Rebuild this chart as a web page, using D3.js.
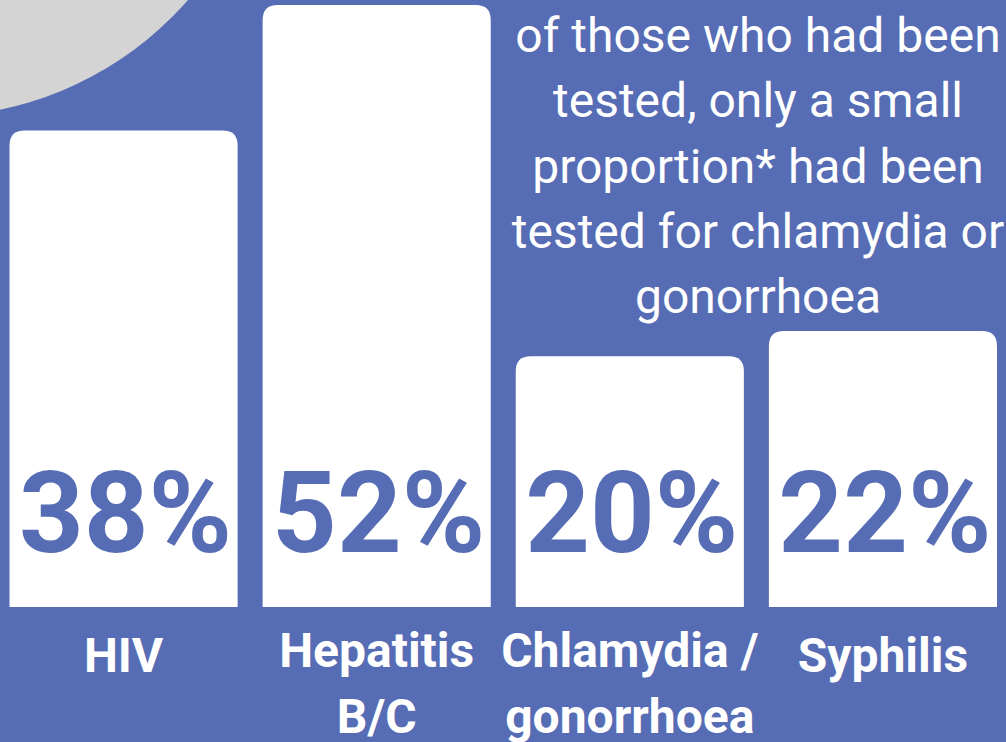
<!DOCTYPE html>
<html>
<head>
<meta charset="utf-8">
<script src="https://cdn.jsdelivr.net/npm/d3@7"></script>
<style>
  html, body { margin: 0; padding: 0; background: #566cb4; overflow: hidden; }
  svg { display: block; }
  text { font-family: Roboto, "Noto Sans", sans-serif; }
</style>
</head>
<body>
<svg id="chart" width="1006" height="742"></svg>
<script>
// ---- data ----
const categories = ["HIV", "Hepatitis B/C", "Chlamydia / gonorrhoea", "Syphilis"];
const labelLines = [["HIV"], ["Hepatitis", "B/C"], ["Chlamydia /", "gonorrhoea"], ["Syphilis"]];
const values = [38, 52, 20, 22];
const valueLabels = ["38%", "52%", "20%", "22%"];
const noteLines = [
  "of those who had been",
  "tested, only a small",
  "proportion* had been",
  "tested for chlamydia or",
  "gonorrhoea"
];

// ---- setup ----
const W = 1006, H = 742;
const BG = "#566cb4";
const svg = d3.select("#chart");

svg.append("rect").attr("width", W).attr("height", H).attr("fill", BG);

// decorative grey circle top-left
svg.append("circle")
  .attr("cx", -70).attr("cy", -226).attr("r", 343)
  .attr("fill", "#d4d4d4");

const x = d3.scaleBand()
  .domain(categories)
  .range([9.5, 997])
  .paddingInner(0.0988)
  .paddingOuter(0);

const y = d3.scaleLinear()
  .domain([0, 48])
  .range([607, 5])
  .clamp(true);

const r = 15;
function topRounded(x0, y0, w, h) {
  const rr = Math.min(r, w / 2, h);
  return `M${x0},${y0 + h}` +
    `V${y0 + rr}` +
    `Q${x0},${y0} ${x0 + rr},${y0}` +
    `H${x0 + w - rr}` +
    `Q${x0 + w},${y0} ${x0 + w},${y0 + rr}` +
    `V${y0 + h}Z`;
}

const data = categories.map((c, i) => ({ c, v: values[i], label: valueLabels[i], lines: labelLines[i] }));

svg.append("g").selectAll("path")
  .data(data)
  .join("path")
  .attr("d", d => topRounded(x(d.c), y(d.v), x.bandwidth(), y(0) - y(d.v)))
  .attr("fill", "#ffffff");

// value labels inside bars
svg.append("g").selectAll("text")
  .data(data)
  .join("text")
  .attr("x", d => x(d.c) + x.bandwidth() / 2 + 2)
  .attr("y", y(0) - 55)
  .attr("text-anchor", "middle")
  .attr("font-size", 113)
  .attr("font-weight", 700)
  .attr("fill", BG)
  .text(d => d.label);

// category labels
const lg = svg.append("g");
data.forEach(d => {
  const t = lg.append("text")
    .attr("text-anchor", "middle")
    .attr("font-size", 48)
    .attr("font-weight", 700)
    .attr("fill", "#ffffff");
  const cx = x(d.c) + x.bandwidth() / 2;
  const base = d.lines.length > 1 ? 667 : 672;
  d.lines.forEach((ln, j) => {
    t.append("tspan").attr("x", cx).attr("y", base + j * 66).text(ln);
  });
});

// annotation
const note = svg.append("text")
  .attr("text-anchor", "middle")
  .attr("font-size", 48)
  .attr("font-weight", 400)
  .attr("fill", "#ffffff");
noteLines.forEach((ln, j) => {
  note.append("tspan").attr("x", 758).attr("y", 52 + j * 65.3).text(ln);
});
</script>
</body>
</html>
